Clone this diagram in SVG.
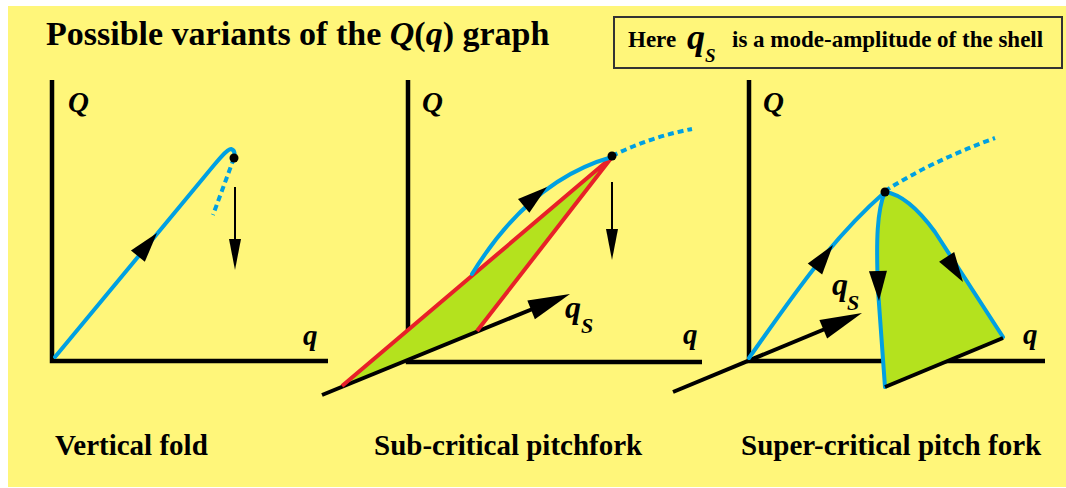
<svg xmlns="http://www.w3.org/2000/svg" xmlns:xlink="http://www.w3.org/1999/xlink" width="1066" height="488" viewBox="0 0 1066 488">
<style>
text{font-family:'Liberation Serif','Times New Roman','DejaVu Serif',serif;font-weight:bold;fill:#000}
.i{font-style:italic}
.ax{stroke:#000;stroke-width:4.5;fill:none;stroke-linecap:butt}
.blue{stroke:#00A0E2;stroke-width:4;fill:none;stroke-linecap:round;stroke-linejoin:round}
.dash{stroke:#00A0E2;stroke-width:4;fill:none;stroke-dasharray:6 4}
.red{stroke:#E82028;stroke-width:4;fill:none;stroke-linejoin:round}
.green{fill:#B4E21E;stroke:none}
.blk{stroke:#000;stroke-width:4;fill:none}
.thin{stroke:#000;stroke-width:2;fill:none}
</style>
<defs>
<path id="ah" d="M0,0 L-30,-9 L-30,9 Z" fill="#000"/>
<path id="ahThin" d="M0,0 L-31,-6 L-31,6 Z" fill="#000"/>
<path id="ahBig" d="M0,0 L-42,-10 L-42,10 Z" fill="#000"/>
</defs>
<rect x="8" y="6" width="1058" height="481" fill="#FFF67A"/>
<g id="title">
<text font-family="Liberation Serif, serif" x="46" y="45" font-size="34">Possible variants of the <tspan class="i">Q</tspan>(<tspan class="i">q</tspan>) graph</text>
</g>
<g id="note">
<rect x="614" y="17" width="448" height="51" fill="none" stroke="#333" stroke-width="2"/>
<text font-family="Liberation Serif, serif" x="628" y="47" font-size="23">Here</text>
<text font-family="Liberation Serif, serif" class="i" x="687" y="49" font-size="36">q</text>
<text font-family="Liberation Serif, serif" class="i" x="705" y="62" font-size="19">S</text>
<text font-family="Liberation Serif, serif" x="732" y="47" font-size="23">is a mode-amplitude of the shell</text>
</g>
<g id="panel1">
<path class="ax" d="M52,80 L52,361 L328,361"/>
<text font-family="Liberation Serif, serif" class="i" x="68" y="112" font-size="29">Q</text>
<text font-family="Liberation Serif, serif" class="i" x="303" y="345" font-size="29">q</text>
<path class="blue" d="M55,357 L205,176 C218,160 227,149 231,149 C235,150 235,154 234,158"/>
<path class="dash" d="M234,158 L213,215"/>
<circle cx="234" cy="158" r="4.5" fill="#000"/>
<use href="#ah" transform="translate(157,233) rotate(-50.4)"/>
<line class="thin" x1="235" y1="187" x2="235" y2="245"/>
<use href="#ahThin" transform="translate(235,270) rotate(90)"/>
<text font-family="Liberation Serif, serif" x="55" y="455" font-size="29">Vertical fold</text>
</g>
<g id="panel2">
<path class="ax" d="M408,80 L408,362 L702,362"/>
<text font-family="Liberation Serif, serif" class="i" x="422" y="112" font-size="29">Q</text>
<text font-family="Liberation Serif, serif" class="i" x="683" y="344" font-size="29">q</text>
<path class="green" d="M342,386 L612,157 L477,331 Z"/>
<path class="blk" d="M322,395 L535,308"/>
<use href="#ahBig" transform="translate(570,294) rotate(-22.2)"/>
<path class="red" d="M342,386 L612,157 L477,331"/>
<path class="blue" d="M472,274 Q530,180 612,157"/>
<path class="dash" d="M612,156 Q650,137 692,129"/>
<circle cx="612" cy="156" r="4.5" fill="#000"/>
<use href="#ah" transform="translate(547,187) rotate(-39)"/>
<line class="thin" x1="612" y1="182" x2="612" y2="235"/>
<use href="#ahThin" transform="translate(612,260) rotate(90)"/>
<text font-family="Liberation Serif, serif" class="i" x="565" y="318" font-size="32">q</text>
<text font-family="Liberation Serif, serif" class="i" x="581" y="333" font-size="22">S</text>
<text font-family="Liberation Serif, serif" x="374" y="455" font-size="29">Sub-critical pitchfork</text>
</g>
<g id="panel3">
<path class="ax" d="M749,80 L749,361 L1045,361"/>
<text font-family="Liberation Serif, serif" class="i" x="763" y="112" font-size="29">Q</text>
<text font-family="Liberation Serif, serif" class="i" x="1023" y="344" font-size="29">q</text>
<path class="blk" d="M673,392 L825,329"/>
<use href="#ahBig" transform="translate(862,313) rotate(-22.7)"/>
<path class="green" d="M885,192 C877,210 876,240 878,290 L885,387 L1003,338 L935,232 Q908,195 885,192 Z"/>
<path class="blue" d="M749,358 C790,300 830,240 885,192"/>
<path class="blue" d="M885,192 C877,210 876,240 878,290 L885,387"/>
<path class="blue" d="M885,192 Q908,195 935,232 L1003,337"/>
<path class="blk" d="M885,387 L1003,338"/>
<path class="dash" d="M885,191 Q930,162 995,138"/>
<circle cx="885" cy="192" r="4.5" fill="#000"/>
<use href="#ah" transform="translate(833,245) rotate(-53)"/>
<use href="#ah" transform="translate(879,301) rotate(88)"/>
<use href="#ah" transform="translate(963,282) rotate(57)"/>
<text font-family="Liberation Serif, serif" class="i" x="832" y="295" font-size="32">q</text>
<text font-family="Liberation Serif, serif" class="i" x="847" y="310" font-size="22">S</text>
<text font-family="Liberation Serif, serif" x="741" y="455" font-size="29">Super-critical pitch fork</text>
</g>
</svg>
